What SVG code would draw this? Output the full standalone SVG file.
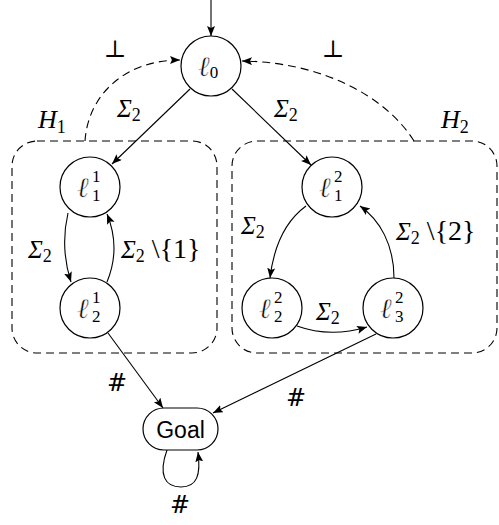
<svg xmlns="http://www.w3.org/2000/svg" width="499" height="525" viewBox="0 0 499 525">
<defs>
<marker id="arr" markerUnits="userSpaceOnUse" markerWidth="12" markerHeight="10" refX="10" refY="4" orient="auto">
<path d="M0,0 L10,4 L0,8 L2,4 Z" fill="#000"/>
</marker>
<style>
.st{fill:#fff;stroke:#000;stroke-width:1.2}
.e{fill:none;stroke:#000;stroke-width:1.1;marker-end:url(#arr)}
.d{fill:none;stroke:#000;stroke-width:1.1;stroke-dasharray:8 5}
.m{font-family:"Liberation Serif","DejaVu Serif",serif;font-style:italic;fill:#000}
.r{font-family:"Liberation Serif","DejaVu Serif",serif;fill:#000;font-style:normal}
.ell{font-family:"DejaVu Serif",serif;font-size:28px;font-style:italic;fill:#000;stroke:#fff;stroke-width:0.5}
.sc{font-family:"Liberation Serif",serif;font-size:17px;font-style:normal;stroke:none}
.lb{font-size:25px}
.sub{font-size:18px;font-style:normal}
.set{font-size:28px}
.h{font-family:"DejaVu Serif",serif;font-size:24px;fill:#000}
.s{font-family:"Liberation Sans","DejaVu Sans",sans-serif;font-size:23px;fill:#000}
</style>
</defs>
<g id="hierarchies">
<rect id="H1box" class="d" x="12" y="141" width="205" height="212" rx="25" ry="25"/>
<rect id="H2box" class="d" x="232" y="141" width="265" height="212" rx="25" ry="25"/>
<text class="m" x="38" y="128" font-size="26">H<tspan class="sub" dy="5">1</tspan></text>
<text class="m" x="441" y="128" font-size="26">H<tspan class="sub" dy="5">2</tspan></text>
</g>
<g id="connectors">
<path class="e" d="M211,0 L211,36"/>
<path class="d" d="M85,141 C88,95 125,60 180,60" marker-end="url(#arr)"/>
<path class="d" d="M414,141 C385,95 320,62 242,61" marker-end="url(#arr)"/>
<text class="r" x="115" y="57" font-size="24" text-anchor="middle">⊥</text>
<text class="r" x="333" y="57" font-size="24" text-anchor="middle">⊥</text>
<path class="e" d="M190,89 L112,164"/>
<path class="e" d="M232,89 L311,165"/>
<text class="m lb" x="117" y="117">Σ<tspan class="sub" dy="4">2</tspan></text>
<text class="m lb" x="274" y="117">Σ<tspan class="sub" dy="4">2</tspan></text>
<path class="e" d="M68,213 Q60,248 71,282"/>
<path class="e" d="M107,282 Q121,248 107,214"/>
<text class="m lb" x="28" y="258">Σ<tspan class="sub" dy="4">2</tspan></text>
<text class="m lb" x="121" y="258">Σ<tspan class="sub" dy="4">2</tspan><tspan class="r set" dy="-4"> \{1}</tspan></text>
<path class="e" d="M306,206 Q276,228 270,278"/>
<path class="e" d="M297,326 Q330,338 367,327"/>
<path class="e" d="M394,278 C394,245 380,220 360,206"/>
<text class="m lb" x="241" y="234">Σ<tspan class="sub" dy="4">2</tspan></text>
<text class="m lb" x="316" y="320">Σ<tspan class="sub" dy="4">2</tspan></text>
<text class="m lb" x="396" y="240">Σ<tspan class="sub" dy="4">2</tspan><tspan class="r set" dy="-4"> \{2}</tspan></text>
<path class="e" d="M108,333 L163,408"/>
<path class="e" d="M376,334 L213,413"/>
<path class="e" d="M167,450 C158,475 165,487 181,487 C197,487 201,475 198,452"/>
<text class="h" x="117" y="391" text-anchor="middle">#</text>
<text class="h" x="296" y="406" text-anchor="middle">#</text>
<text class="h" x="180" y="513" text-anchor="middle">#</text>
</g>
<g id="l0">
<circle class="st" cx="211" cy="66" r="30"/>
<text class="ell" x="198" y="76">ℓ<tspan class="sc" font-size="19" dy="2">0</tspan></text>
</g>
<g id="l11">
<circle class="st" cx="90" cy="187" r="30"/>
<text class="ell" x="77" y="197">ℓ<tspan class="sc" x="92" y="182">1</tspan><tspan class="sc" x="92" y="201">1</tspan></text>
</g>
<g id="l21">
<circle class="st" cx="90" cy="308" r="30"/>
<text class="ell" x="77" y="318">ℓ<tspan class="sc" x="92" y="303">1</tspan><tspan class="sc" x="92" y="322">2</tspan></text>
</g>
<g id="l12">
<circle class="st" cx="332" cy="187" r="30"/>
<text class="ell" x="319" y="197">ℓ<tspan class="sc" x="334" y="182">2</tspan><tspan class="sc" x="334" y="201">1</tspan></text>
</g>
<g id="l22">
<circle class="st" cx="272" cy="308" r="30"/>
<text class="ell" x="259" y="318">ℓ<tspan class="sc" x="274" y="303">2</tspan><tspan class="sc" x="274" y="322">2</tspan></text>
</g>
<g id="l32">
<circle class="st" cx="393" cy="308" r="30"/>
<text class="ell" x="380" y="318">ℓ<tspan class="sc" x="395" y="303">2</tspan><tspan class="sc" x="395" y="322">3</tspan></text>
</g>
<g id="goal">
<rect class="st" x="143" y="408" width="75" height="42" rx="21" ry="21"/>
<text class="s" x="180.5" y="438" text-anchor="middle">Goal</text>
</g>
</svg>
